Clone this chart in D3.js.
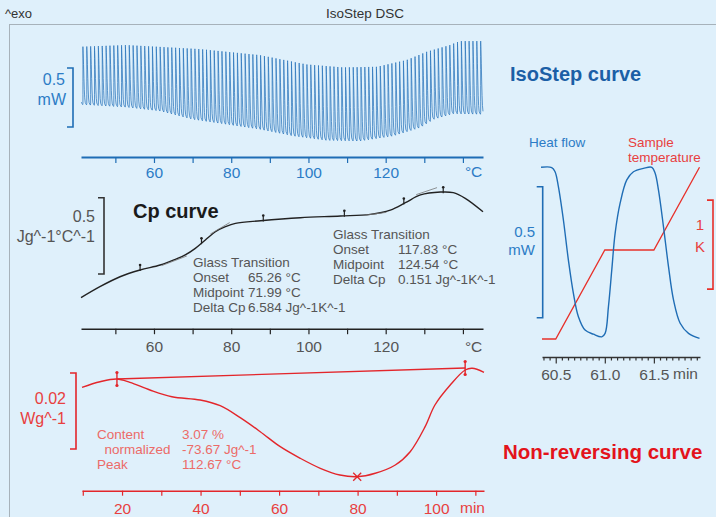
<!DOCTYPE html>
<html>
<head>
<meta charset="utf-8">
<script src="https://cdn.jsdelivr.net/npm/d3@7"></script>
<style>
  html, body { margin: 0; padding: 0; background: #dff0fb; }
  svg { display: block; font-family: "Liberation Sans", Arial, sans-serif; }
</style>
</head>
<body>
<script>
// IsoStep raw heat flow: envelope of the oscillation (°C -> mW)
const isoUpTemp = [41.1, 52.9, 71.9, 87.4, 99.5, 108.9, 117.7, 125.4, 130.6, 136.6, 139.2, 145.2];
const isoUp = [0.681, 0.695, 0.661, 0.610, 0.531, 0.506, 0.511, 0.568, 0.638, 0.695, 0.729, 0.729];
const isoLoTemp = [41.1, 52.9, 61.6, 70.1, 78.8, 87.4, 96.1, 104.7, 113.3, 121.9, 128.9, 132.4, 137.5, 145.2];
const isoLo = [0.186, 0.163, 0.130, 0.059, 0.017, -0.025, -0.082, -0.119, -0.125, -0.082, -0.011, 0.059, 0.107, 0.102];
const isoFirstStep = 40.6; // °C, start of first step, 1 K per step

// Cp curve (°C -> Jg^-1°C^-1)
const cpTemp = [41.1, 46.0, 51.2, 56.4, 61.6, 65.5, 68.1, 70.7, 73.3, 75.9, 78.5, 81.1, 87.6, 97.9, 108.3, 116.0, 121.2, 125.1, 129.0, 134.2, 137.5, 140.6, 145.2];
const cpValue = [0.845, 0.917, 0.982, 1.026, 1.059, 1.096, 1.125, 1.168, 1.223, 1.277, 1.310, 1.332, 1.349, 1.369, 1.380, 1.391, 1.419, 1.467, 1.518, 1.537, 1.533, 1.496, 1.408];
const cpTangentTemp = [[62.0, 68.5], [74.6, 79.6], [114.8, 120.2], [127.9, 133.3]];
const cpTangentValue = [[1.055, 1.118], [1.262, 1.337], [1.386, 1.404], [1.520, 1.566]];
const cpMarkers = [56.4, 72.3, 88.3, 109.3, 124.7, 134.9];

// Non-reversing curve (min -> Wg^-1)
const nrTime = [9.8, 14.4, 18.7, 22.0, 27.1, 32.7, 39.9, 45.0, 50.1, 55.2, 60.3, 65.4, 70.5, 75.5, 79.9, 84.5, 89.6, 93.4, 97.2, 99.7, 103.6, 107.4, 109.2, 112.2];
const nrValue = [0.01624, 0.01771, 0.01842, 0.01755, 0.01553, 0.01376, 0.01289, 0.01139, 0.00824, 0.00455, 0.00061, -0.00245, -0.00508, -0.00684, -0.00729, -0.00639, -0.00421, -0.00071, 0.00587, 0.01158, 0.01684, 0.02079, 0.02124, 0.02018];
const nrLimits = [18.7, 107.4];
const nrBaseValue = [0.01842, 0.02132];
const nrPeak = 79.9;

// Detail of one step (min -> mW, K)
const hfTime = [60.35, 60.459, 60.493, 60.527, 60.578, 60.629, 60.680, 60.731, 60.799, 60.884, 60.969, 61.003, 61.037, 61.071, 61.105, 61.156, 61.224, 61.292, 61.394, 61.480, 61.513, 61.547, 61.598, 61.649, 61.700, 61.768, 61.853, 61.965];
const hfValue = [0.574, 0.573, 0.557, 0.500, 0.373, 0.220, 0.093, 0.004, -0.047, -0.063, -0.073, -0.060, 0.042, 0.182, 0.322, 0.437, 0.526, 0.557, 0.570, 0.574, 0.551, 0.487, 0.347, 0.195, 0.068, -0.021, -0.060, -0.079];
const stTime = [60.36, 60.5, 61.0, 61.5, 61.965];
const stValue = [0, 0, 1, 1, 1.93];

// Tick labels
const tempTicks = [50, 60, 70, 80, 90, 100, 110, 120, 130, 140];
const tempLabels = [60, 80, 100, 120];
const timeTicks = [10, 20, 30, 40, 50, 60, 70, 80, 90, 100, 110];
const timeLabels = [20, 40, 60, 80, 100];
const detailLabels = [60.5, 61.0, 61.5];

const width = 716, height = 517;
const blue = "#1f6db5", blueText = "#2c7cc6";
const red = "#e3262b", redText = "#e8403f", redSoft = "#ec6b68";
const grayText = "#555";

const svg = d3.select("body").append("svg")
  .attr("width", width)
  .attr("height", height);

svg.append("rect").attr("width", width).attr("height", height).attr("fill", "#dff0fb");
svg.append("rect")
  .attr("x", 9.5).attr("y", 24.5)
  .attr("width", 720).attr("height", 520)
  .attr("fill", "none").attr("stroke", "#a7b2ba");

svg.append("text").attr("x", 5).attr("y", 18).attr("font-size", 13).attr("fill", "#333").text("^exo");
svg.append("text").attr("x", 365).attr("y", 18).attr("font-size", 13.5).attr("fill", "#333")
  .attr("text-anchor", "middle").text("IsoStep DSC");

// scales
const tempX = d3.scaleLinear().domain([41.1, 145.2]).range([81, 483]);
const isoY = d3.scaleLinear().domain([0, 0.5]).range([127, 68]);
const cpY = d3.scaleLinear().domain([1.0, 1.5]).range([274, 197.7]);
const timeX = d3.scaleLinear().domain([9.8, 112.2]).range([82, 484]);
const nrY = d3.scaleLinear().domain([0, 0.02]).range([449, 373]);
const dX = d3.scaleLinear().domain([60.36, 61.97]).range([542, 700]);
const hfY = d3.scaleLinear().domain([0, 0.5]).range([317.7, 186.7]);
const stY = d3.scaleLinear().domain([0, 1]).range([339, 250]);

function styleAxis(g, color, textColor, lineWidth, textY) {
  g.select(".domain").attr("stroke", color).attr("stroke-width", lineWidth);
  g.selectAll(".tick line").attr("stroke", color).attr("stroke-width", 1.2);
  g.selectAll(".tick text").attr("fill", textColor).attr("font-size", 15.5).attr("y", textY);
  g.attr("font-family", null);
}

function bracket(x, y0, y1, color) {
  svg.append("path")
    .attr("d", `M${x - 6},${y0}H${x}V${y1}H${x - 6}`)
    .attr("fill", "none").attr("stroke", color).attr("stroke-width", 1.6);
}

function label(x, y, txt, color, size, anchor) {
  return svg.append("text").attr("x", x).attr("y", y)
    .attr("fill", color).attr("font-size", size)
    .attr("text-anchor", anchor || "start").text(txt);
}

// ---------- IsoStep curve ----------
const upAt = d3.scaleLinear().domain(isoUpTemp).range(isoUp);
const loAt = d3.scaleLinear().domain(isoLoTemp).range(isoLo);
const stAt = d3.scaleLinear().domain(stTime).range(stValue).clamp(true);
const hfMin = d3.min(hfValue), hfMax = d3.max(hfValue);
const cycle = hfTime.map((t, i) => ({ t, v: hfValue[i] })).filter(d => d.t >= 60.45 && d.t < 61.45);

const isoPoints = [];
for (let T0 = isoFirstStep; T0 < 145.2; T0 += 1) {
  cycle.forEach(d => {
    const T = T0 + stAt(d.t);
    if (T < 41.1 || T > 145.2) return;
    const n = (d.v - hfMin) / (hfMax - hfMin);
    isoPoints.push([T, loAt(T) + n * (upAt(T) - loAt(T))]);
  });
}

svg.append("path")
  .attr("d", d3.line().x(d => tempX(d[0])).y(d => isoY(d[1]))(isoPoints))
  .attr("fill", "none").attr("stroke", "#2a74bb").attr("stroke-width", 0.75);

const axTop = svg.append("g").attr("transform", "translate(0,157)")
  .call(d3.axisBottom(tempX).tickValues(tempTicks).tickSize(6).tickSizeOuter(0)
    .tickFormat(d => tempLabels.includes(d) ? d : ""));
styleAxis(axTop, blue, blueText, 2, 10);
label(tempX(140) + 2, 177, "°C", blueText, 15.5);

bracket(73, isoY(0), isoY(0.5), blue);
label(65, 85, "0.5", blueText, 16, "end");
label(66, 105, "mW", blueText, 16, "end");
svg.append("text").attr("x", 510).attr("y", 81).attr("fill", "#1b5fa6")
  .attr("font-size", 20).attr("font-weight", "bold").text("IsoStep curve");

// ---------- Cp curve ----------
const cpAt = d3.scaleLinear().domain(cpTemp).range(cpValue);
svg.append("path")
  .attr("d", d3.line().curve(d3.curveCatmullRom).x((d, i) => tempX(cpTemp[i])).y(d => cpY(d))(cpValue))
  .attr("fill", "none").attr("stroke", "#222").attr("stroke-width", 1.4);

cpTangentTemp.forEach((tt, i) => {
  svg.append("line")
    .attr("x1", tempX(tt[0])).attr("y1", cpY(cpTangentValue[i][0]))
    .attr("x2", tempX(tt[1])).attr("y2", cpY(cpTangentValue[i][1]))
    .attr("stroke", "#777").attr("stroke-width", 0.8);
});
cpMarkers.forEach(T => {
  const x = tempX(T), y = cpY(cpAt(T));
  svg.append("line").attr("x1", x).attr("x2", x).attr("y1", y + 1).attr("y2", y - 5)
    .attr("stroke", "#222").attr("stroke-width", 1.2);
  svg.append("circle").attr("cx", x).attr("cy", y - 5).attr("r", 1.3).attr("fill", "#222");
});

const axCp = svg.append("g").attr("transform", "translate(0,328.7)")
  .call(d3.axisBottom(tempX).tickValues(tempTicks).tickSize(5.5).tickSizeOuter(0)
    .tickFormat(d => tempLabels.includes(d) ? d : ""));
styleAxis(axCp, "#222", grayText, 1.6, 12);
label(tempX(140) + 2, 352, "°C", grayText, 15.5);

bracket(104, cpY(1.0), cpY(1.5), "#333");
label(95, 222, "0.5", grayText, 16, "end");
label(95, 242, "Jg^-1°C^-1", grayText, 16, "end");
svg.append("text").attr("x", 133).attr("y", 218).attr("fill", "#1a1a1a")
  .attr("font-size", 20).attr("font-weight", "bold").text("Cp curve");

const gt1 = ["Glass Transition", "Onset", "Midpoint", "Delta Cp"];
const gt1Val = ["", "65.26 °C", "71.99 °C", "6.584 Jg^-1K^-1"];
const gt2Val = ["", "117.83 °C", "124.54 °C", "0.151 Jg^-1K^-1"];
gt1.forEach((t, i) => {
  label(193, 266.5 + i * 15.2, t, grayText, 13.5);
  label(248, 266.5 + i * 15.2, gt1Val[i], grayText, 13.5);
  label(333, 238.5 + i * 15.2, t, grayText, 13.5);
  label(398, 238.5 + i * 15.2, gt2Val[i], grayText, 13.5);
});

// ---------- Non-reversing curve ----------
const nrAt = d3.scaleLinear().domain(nrTime).range(nrValue);
svg.append("path")
  .attr("d", d3.line().curve(d3.curveCatmullRom).x((d, i) => timeX(nrTime[i])).y(d => nrY(d))(nrValue))
  .attr("fill", "none").attr("stroke", red).attr("stroke-width", 1.4);
svg.append("line")
  .attr("x1", timeX(nrLimits[0])).attr("y1", nrY(nrBaseValue[0]))
  .attr("x2", timeX(nrLimits[1])).attr("y2", nrY(nrBaseValue[1]))
  .attr("stroke", red).attr("stroke-width", 1.4);
nrLimits.forEach((t, i) => {
  const x = timeX(t), y = nrY(nrBaseValue[i]);
  svg.append("line").attr("x1", x).attr("x2", x).attr("y1", y - 6.5).attr("y2", y + 6.5)
    .attr("stroke", red).attr("stroke-width", 1.4);
  [y - 6.5, y + 6.5].forEach(cy => svg.append("circle").attr("cx", x).attr("cy", cy).attr("r", 1.6).attr("fill", red));
});
{
  const x = timeX(nrPeak), y = nrY(nrAt(nrPeak));
  svg.append("path").attr("d", `M${x - 4},${y - 4}L${x + 4},${y + 4}M${x - 4},${y + 4}L${x + 4},${y - 4}`)
    .attr("stroke", red).attr("stroke-width", 1.3);
}

const axNr = svg.append("g").attr("transform", "translate(0,490.7)")
  .call(d3.axisBottom(timeX).tickValues(timeTicks).tickSize(5).tickSizeOuter(0)
    .tickFormat(d => timeLabels.includes(d) ? d : ""));
styleAxis(axNr, red, redText, 1.6, 12);
label(460, 513, "min", redText, 15.5);

bracket(76, nrY(0), nrY(0.02), red);
label(66, 404, "0.02", redText, 16, "end");
label(66, 424, "Wg^-1", redText, 16, "end");

const nrNames = ["Content", "normalized", "Peak"];
const nrVals = ["3.07 %", "-73.67 Jg^-1", "112.67 °C"];
nrNames.forEach((t, i) => {
  label(i === 1 ? 104.5 : 97, 439 + i * 15.2, t, redSoft, 13.5);
  label(182, 439 + i * 15.2, nrVals[i], redSoft, 13.5);
});
svg.append("text").attr("x", 503).attr("y", 459).attr("fill", "#e3141b")
  .attr("font-size", 20.5).attr("font-weight", "bold").text("Non-reversing curve");

// ---------- Detail of one step ----------
svg.append("path")
  .attr("d", d3.line().x((d, i) => dX(stTime[i])).y(d => stY(d))(stValue))
  .attr("fill", "none").attr("stroke", "#e8302a").attr("stroke-width", 1.3);
svg.append("path")
  .attr("d", d3.line().curve(d3.curveCatmullRom).x((d, i) => dX(hfTime[i])).y(d => hfY(d))(hfValue))
  .attr("fill", "none").attr("stroke", blue).attr("stroke-width", 1.4);

const detailTicks = d3.range(60.375, 61.97, 0.0625);
const axD = svg.append("g").attr("transform", "translate(0,357)")
  .call(d3.axisBottom(dX).tickValues(detailTicks).tickSize(3.5).tickSizeOuter(0)
    .tickFormat(d => detailLabels.some(v => Math.abs(v - d) < 1e-6) ? d3.format(".1f")(d) : ""));
styleAxis(axD, "#333", grayText, 1.4, 11.5);
axD.selectAll(".tick line")
  .filter(d => detailLabels.some(v => Math.abs(v - d) < 1e-6))
  .attr("y2", 6.5);
label(673, 379, "min", grayText, 15.5);

bracket(542.7, hfY(0), hfY(0.5), blue);
bracket(713, stY(0.56), stY(1.56), "#e8302a");
label(535, 237, "0.5", blueText, 15, "end");
label(535, 255, "mW", blueText, 15, "end");
label(700, 230, "1", redText, 15, "middle");
label(700, 252, "K", redText, 15, "middle");
label(529, 147, "Heat flow", blueText, 13.5);
label(628, 147, "Sample", redText, 13.5);
label(628, 162, "temperature", redText, 13.5);
</script>
</body>
</html>
